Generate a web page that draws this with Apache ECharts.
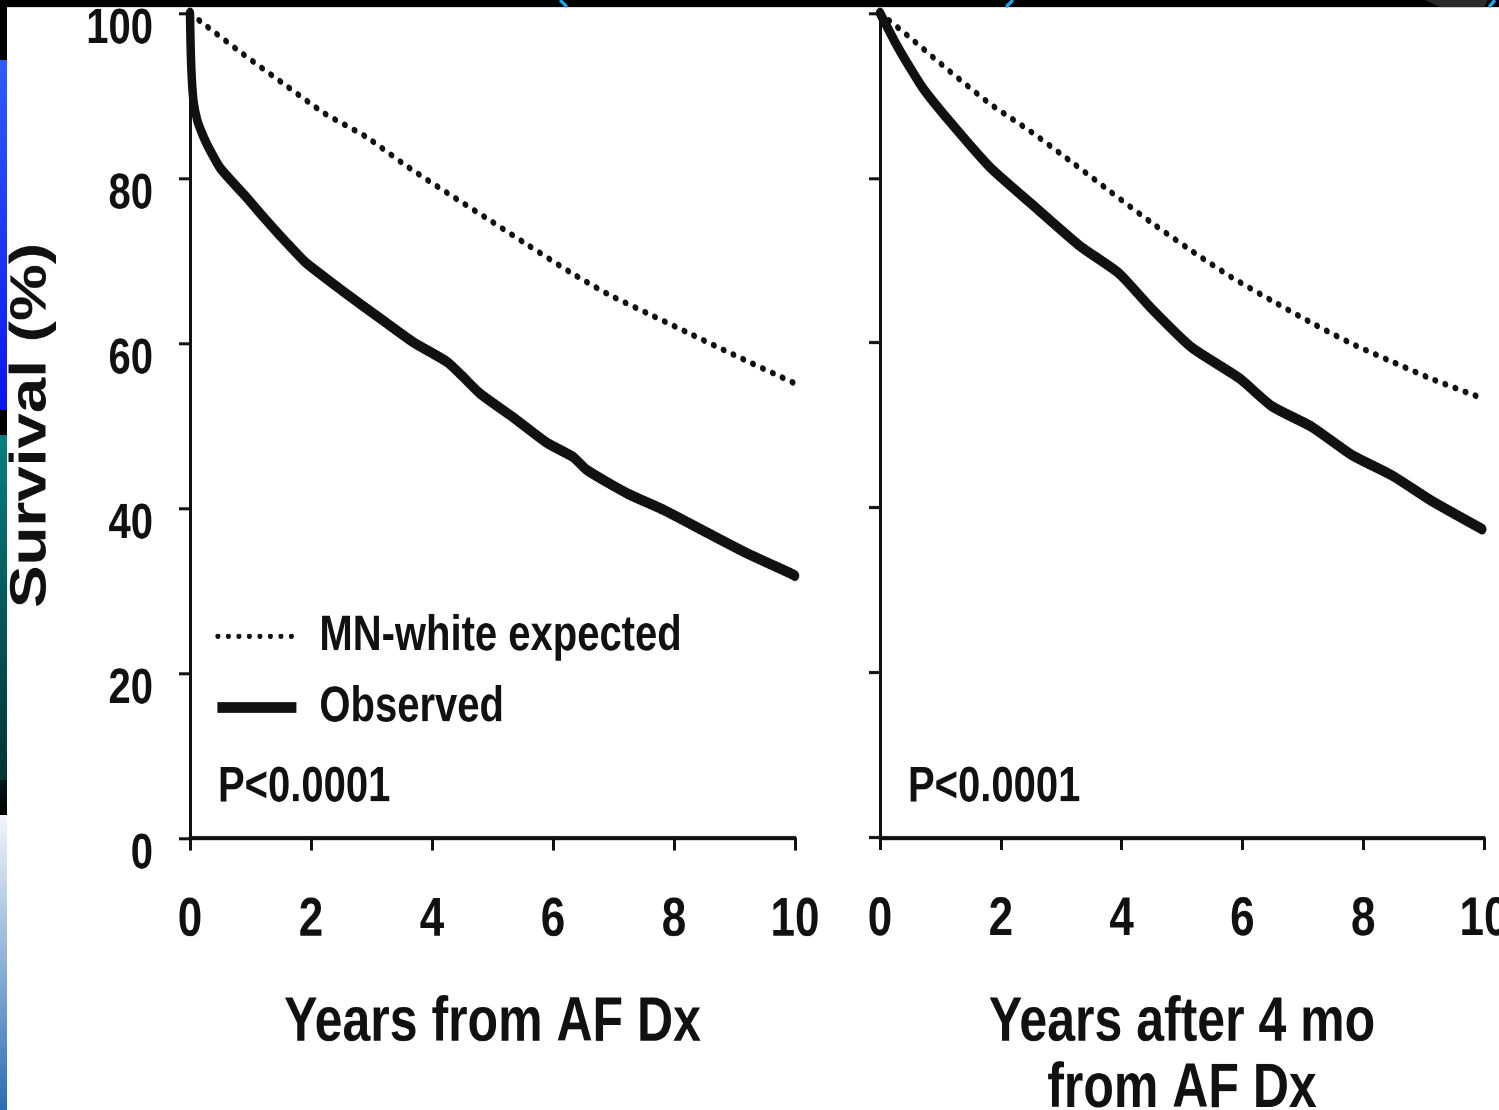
<!DOCTYPE html>
<html>
<head>
<meta charset="utf-8">
<script src="https://cdn.jsdelivr.net/npm/echarts@6/dist/echarts.min.js"></script>
<style>
  html, body { margin: 0; padding: 0; background: #fff; width: 1499px; height: 1110px; }
  /* the source figure is a vertically stretched scan: reproduce that stretch */
  #chart { width: 1499px; height: 888px; transform: scaleY(1.25); transform-origin: 0 0; }
</style>
</head>
<body>
<div id="chart"></div>
<script>
// ---- data ----
const xTickLabels = ['0', '2', '4', '6', '8', '10'];
const yTickLabels = ['0', '20', '40', '60', '80', '100'];

// Left panel: years from AF diagnosis
const obsLeftX = [0, 0.01, 0.03, 0.06, 0.12, 0.2, 0.3, 0.5, 0.74, 0.94, 1.21, 1.49, 1.89, 2.04, 2.56, 3.14, 3.69, 4.25, 4.5, 4.79, 5.34, 5.9, 6.33, 6.56, 7.22, 7.82, 8.55, 9.21, 9.92, 10];
const obsLeftY = [100, 96, 92, 89.2, 87, 85.4, 83.8, 81.2, 79.2, 77.6, 75.3, 73.0, 69.9, 69.0, 66.1, 63.0, 60.1, 57.7, 56.0, 53.9, 51.0, 47.9, 46.2, 44.6, 41.8, 39.8, 37.0, 34.5, 32.1, 31.8];
const expLeftX = [0, 0.17, 0.88, 1.55, 2.23, 2.91, 3.57, 4.25, 4.93, 5.60, 6.28, 6.94, 7.62, 8.30, 8.98, 9.97];
const expLeftY = [100, 99, 95, 91.4, 87.8, 85.0, 81.5, 78.2, 75.0, 71.8, 68.6, 65.8, 63.4, 61.0, 58.6, 55.2];

// Right panel: years after 4 months from AF diagnosis
const obsRightX = [0, 0.3, 0.7, 1.16, 1.82, 2.5, 3.3, 3.96, 4.49, 5.15, 5.95, 6.49, 7.15, 7.81, 8.48, 9.14, 9.97];
const obsRightY = [100, 95.8, 91.0, 86.8, 81.3, 76.9, 71.8, 68.4, 64.2, 59.5, 55.7, 52.3, 49.8, 46.4, 43.9, 40.8, 37.4];
const expRightX = [0, 0.5, 1.16, 1.82, 2.5, 3.16, 3.82, 4.49, 5.15, 5.81, 6.49, 7.15, 7.81, 8.48, 9.14, 10];
const expRightY = [100, 97.0, 92.9, 89.0, 85.6, 82.0, 78.3, 74.6, 71.2, 68.0, 65.1, 62.4, 59.9, 57.7, 55.6, 53.2];

const seriesNames = ['MN-white expected', 'Observed'];
const xTitles = ['Years from AF Dx', 'Years after 4 mo\nfrom AF Dx'];
const yTitle = 'Survival (%)';
const pText = 'P<0.0001';

// ---- chart ----
const zip = (xs, ys) => xs.map((x, i) => [x, ys[i]]);
const FONT = "'Liberation Sans', Arial, Helvetica, sans-serif";
const INK = '#111';

const chart = echarts.init(document.getElementById('chart'), null, { renderer: 'canvas', devicePixelRatio: 2 });

function makeX(gi, name) {
  return {
    type: 'value', gridIndex: gi, min: 0, max: 10, interval: 2,
    name: name, nameLocation: 'middle', nameGap: 122,
    nameTextStyle: { fontFamily: FONT, fontWeight: 'bold', fontSize: 50, lineHeight: 53, color: INK },
    axisLine: { show: true, onZero: false, lineStyle: { color: INK, width: 3.2 } },
    axisTick: { show: true, inside: false, length: 10, lineStyle: { color: INK, width: 3 } },
    axisLabel: {
      show: true, margin: 44, fontFamily: FONT, fontWeight: 'bold', fontSize: 44, lineHeight: 44, color: INK,
      formatter: v => xTickLabels[Math.round(v / 2)]
    },
    splitLine: { show: false }
  };
}
function makeY(gi, showLabel, name) {
  return {
    type: 'value', gridIndex: gi, min: 0, max: 100, interval: 20,
    name: name || '', nameLocation: 'middle', nameGap: 133,
    nameTextStyle: { fontFamily: FONT, fontWeight: 'bold', fontSize: 51, color: INK },
    axisLine: { show: true, onZero: false, lineStyle: { color: INK, width: 3 } },
    axisTick: { show: true, inside: false, length: 11, lineStyle: { color: INK, width: 2.4 } },
    axisLabel: {
      show: showLabel, margin: 37, fontFamily: FONT, fontWeight: 'bold', fontSize: 40, color: INK,
      verticalAlign: 'top', lineHeight: 26,
      formatter: v => yTickLabels[Math.round(v / 20)]
    },
    splitLine: { show: false }
  };
}

const dotted = { color: INK, width: 5, type: [1, 9.5], cap: 'round' };
const solid = { color: INK, width: 8.5, cap: 'round', join: 'round' };

function lineSeries(name, gi, data, ls) {
  return {
    name: name, type: 'line', xAxisIndex: gi, yAxisIndex: gi,
    data: data, showSymbol: false, symbol: 'none', smooth: 0.2, clip: false,
    lineStyle: ls, itemStyle: { color: INK }, silent: true, animation: false
  };
}

const S = 1.25;
const stripe = [
  { y: 0, h: 60, c0: '#000', c1: '#000' },
  { y: 60, h: 350, c0: '#2f5dff', c1: '#0a14f0' },
  { y: 410, h: 25, c0: '#000', c1: '#000' },
  { y: 435, h: 345, c0: '#0a7f80', c1: '#033436' },
  { y: 780, h: 35, c0: '#01181a', c1: '#000' },
  { y: 815, h: 295, c0: '#f3f6fb', c1: '#2a6db4' }
];
// small cyan arc fragments and grey corner visible inside the black top border
const topBits = [
  { x1: 560, y1: 0, x2: 567, y2: 7, c: '#19a8f0' },
  { x1: 1006, y1: 7, x2: 1013, y2: 0, c: '#19a8f0' },
  { x1: 1489, y1: 7, x2: 1495, y2: 0, c: '#19a8f0' }
];

chart.setOption({
  backgroundColor: '#ffffff',
  animation: false,
  grid: [
    { left: 190, right: 704, top: 10.4, bottom: 217.6, outerBoundsMode: 'none', containLabel: false },
    { left: 880, right: 15, top: 10.4, bottom: 218, outerBoundsMode: 'none', containLabel: false }
  ],
  xAxis: [makeX(0, xTitles[0]), makeX(1, xTitles[1])],
  yAxis: [makeY(0, true, yTitle), makeY(1, false, '')],
  legend: {
    left: 208, top: 484, orient: 'vertical',
    itemWidth: 79, itemHeight: 12, itemGap: 17,
    selectedMode: false,
    itemStyle: { opacity: 0 },
    textStyle: { fontFamily: FONT, fontWeight: 'bold', fontSize: 40, color: INK, padding: [0, 0, 0, 18] },
    data: [
      { name: seriesNames[0], lineStyle: { color: INK, width: 4, type: [1, 9.5], cap: 'round' } },
      { name: seriesNames[1], lineStyle: { color: INK, width: 8.8, type: 'solid', cap: 'butt' } }
    ]
  },
  title: [
    { text: pText, left: 218, top: 610, padding: 0, textStyle: { fontFamily: FONT, fontWeight: 'bold', fontSize: 40, color: INK } },
    { text: pText, left: 908, top: 610, padding: 0, textStyle: { fontFamily: FONT, fontWeight: 'bold', fontSize: 40, color: INK } }
  ],
  series: [
    lineSeries(seriesNames[0], 0, zip(expLeftX, expLeftY), dotted),
    lineSeries(seriesNames[1], 0, zip(obsLeftX, obsLeftY), solid),
    lineSeries(seriesNames[0], 1, zip(expRightX, expRightY), dotted),
    lineSeries(seriesNames[1], 1, zip(obsRightX, obsRightY), solid)
  ],
  graphic: [
    { type: 'rect', left: 0, top: 0, z: 100, silent: true, shape: { width: 1499, height: 7 / S }, style: { fill: '#000' } },
    { type: 'polygon', z: 101, silent: true,
      shape: { points: [[1425, 0], [1488, 0], [1484, 7 / S], [1440, 7 / S]] }, style: { fill: '#2b2b2b' } }
  ].concat(topBits.map(b => ({
    type: 'line', z: 102, silent: true,
    shape: { x1: b.x1, y1: b.y1 / S, x2: b.x2, y2: b.y2 / S },
    style: { stroke: b.c, lineWidth: 3 }
  }))).concat(stripe.map(s => ({
    type: 'rect', left: 0, top: s.y / S, z: 100, silent: true,
    shape: { width: 7, height: s.h / S },
    style: { fill: new echarts.graphic.LinearGradient(0, 0, 0, 1, [{ offset: 0, color: s.c0 }, { offset: 1, color: s.c1 }]) }
  })))
});
</script>
</body>
</html>
